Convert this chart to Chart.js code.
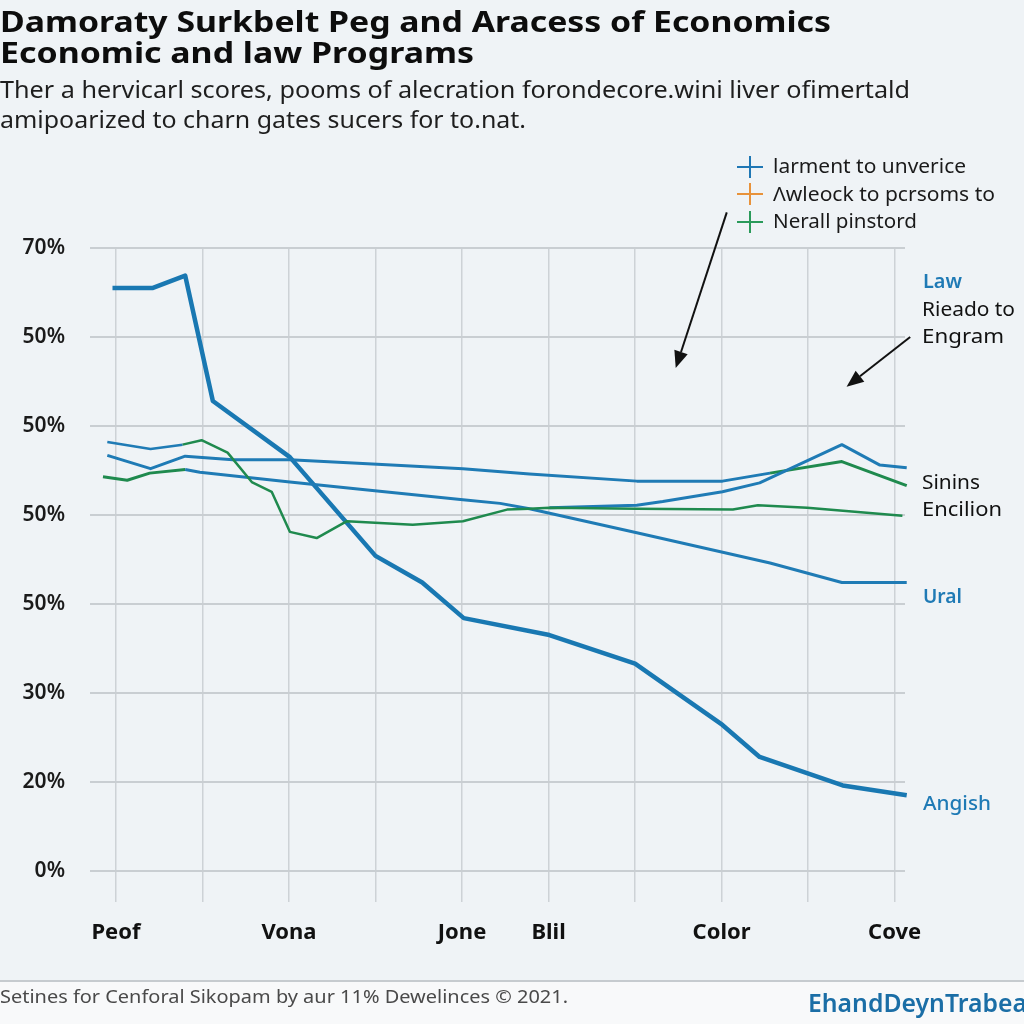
<!DOCTYPE html>
<html>
<head>
<meta charset="utf-8">
<script src="https://cdn.jsdelivr.net/npm/chart.js@4.4.1/dist/chart.umd.min.js"></script>
<style>
html,body{margin:0;padding:0;}
body{width:1024px;height:1024px;overflow:hidden;background:#eff3f6;position:relative;font-family:"Noto Sans",sans-serif;}
#c{position:absolute;left:0;top:0;}
.t{position:absolute;white-space:nowrap;transform-origin:0 0;line-height:1;}
#footer{position:absolute;left:0;top:980px;width:1024px;height:44px;background:#f8f9fa;border-top:2px solid #c6cbcf;}
.cross{position:absolute;width:26px;height:22px;}
.cross i{position:absolute;display:block;}
</style>
</head>
<body>
<div id="footer"></div>
<canvas id="c" width="1024" height="1024"></canvas>
<script>
// ---------- data ----------
const xTickValues = [0, 1, 2, 3, 4, 5, 6, 7, 8, 9];
const xTickLabels = ['Peof', '', 'Vona', '', 'Jone', 'Blil', '', 'Color', '', 'Cove'];
const yTickValues = [0, 10, 20, 30, 40, 50, 60, 70];
const yTickLabels = ['0%', '20%', '30%', '50%', '50%', '50%', '50%', '70%'];

const angishX = [-0.04, 0.42, 0.80, 1.12, 2.01, 3.00, 3.54, 4.02, 5.01, 6.00, 7.01, 7.44, 8.40, 9.14];
const angishY = [65.5, 65.5, 66.9, 52.8, 46.5, 35.4, 32.4, 28.4, 26.5, 23.3, 16.4, 12.8, 9.6, 8.5];

const nerallX = [-0.10, 0.40, 0.77, 0.99, 1.29, 1.57, 1.80, 2.01, 2.32, 2.67, 3.43, 4.01, 4.52, 4.78, 5.01, 6.02, 7.13, 7.42, 7.99, 9.09];
const nerallY = [48.2, 47.4, 47.9, 48.4, 47.0, 43.7, 42.6, 38.1, 37.4, 39.3, 38.9, 39.3, 40.6, 40.7, 40.8, 40.7, 40.6, 41.1, 40.8, 39.9];

const lawX = [-0.10, 0.40, 0.80, 1.35, 2.01, 3.02, 4.01, 4.78, 6.02, 7.01, 7.56, 8.39, 9.14];
const lawY = [46.7, 45.2, 46.6, 46.2, 46.2, 45.7, 45.2, 44.6, 43.8, 43.8, 44.7, 46.0, 43.3];

const uralX = [-0.15, 0.13, 0.39, 0.80, 0.97, 2.01, 3.02, 4.01, 4.44, 4.78, 6.02, 7.56, 8.39, 9.14];
const uralY = [44.3, 43.9, 44.7, 45.1, 44.8, 43.7, 42.7, 41.7, 41.3, 40.7, 38.0, 34.6, 32.4, 32.4];

const riseX = [5.01, 6.02, 6.32, 7.01, 7.44, 8.39, 8.83, 9.14];
const riseY = [40.8, 41.1, 41.5, 42.6, 43.6, 47.9, 45.6, 45.3];

const legendLabels = ['larment to unverice', 'Λwleock to pcrsoms to', 'Nerall pinstord'];
const legendColors = ['#1f77b4', '#e8923a', '#2a9a5a'];

const annotationArrows = [
  { from: [7.06, 74.0], to: [6.47, 56.5] },
  { from: [9.18, 60.0], to: [8.445, 54.4] }
];

// ---------- styles ----------
const BLUE = '#1f7bb5', THICK = '#1978b2', GREEN = '#1f8a4e';
const pts = (xs, ys) => xs.map((x, i) => ({ x, y: ys[i] }));

const arrowPlugin = {
  id: 'arrows',
  afterDraw(chart) {
    const { ctx, scales: { x, y } } = chart;
    ctx.save();
    ctx.strokeStyle = '#111'; ctx.fillStyle = '#111'; ctx.lineWidth = 2;
    annotationArrows.forEach(a => {
      const x0 = x.getPixelForValue(a.from[0]), y0 = y.getPixelForValue(a.from[1]);
      const x1 = x.getPixelForValue(a.to[0]), y1 = y.getPixelForValue(a.to[1]);
      const ang = Math.atan2(y1 - y0, x1 - x0), L = 17, W = 7;
      const bx = x1 - L * Math.cos(ang), by = y1 - L * Math.sin(ang);
      ctx.beginPath(); ctx.moveTo(x0, y0); ctx.lineTo(bx, by); ctx.stroke();
      ctx.beginPath();
      ctx.moveTo(x1, y1);
      ctx.lineTo(bx + W * Math.sin(ang), by - W * Math.cos(ang));
      ctx.lineTo(bx - W * Math.sin(ang), by + W * Math.cos(ang));
      ctx.closePath(); ctx.fill();
    });
    ctx.restore();
  }
};

const common = { pointRadius: 0, pointHoverRadius: 0, tension: 0, fill: false, borderJoinStyle: 'round', borderCapStyle: 'butt', clip: false };

new Chart(document.getElementById('c'), {
  type: 'line',
  data: {
    datasets: [
      Object.assign({ label: 'Nerall', data: pts(nerallX, nerallY), borderColor: GREEN, borderWidth: 2.5,
        segment: { borderColor: c => c.p0DataIndex < 2 ? BLUE : GREEN } }, common),
      Object.assign({ label: 'Ural', data: pts(uralX, uralY), borderColor: BLUE, borderWidth: 3,
        segment: { borderColor: c => c.p0DataIndex < 3 ? GREEN : BLUE } }, common),
      Object.assign({ label: 'Rise', data: pts(riseX, riseY), borderColor: BLUE, borderWidth: 3 }, common),
      Object.assign({ label: 'Law', data: pts(lawX, lawY), borderColor: BLUE, borderWidth: 3,
        segment: { borderColor: c => c.p0DataIndex >= 10 ? GREEN : BLUE } }, common),
      Object.assign({ label: 'Angish', data: pts(angishX, angishY), borderColor: THICK, borderWidth: 4.5 }, common)
    ]
  },
  options: {
    responsive: false,
    animation: false,
    devicePixelRatio: 1,
    layout: { padding: { top: 248, left: 0, right: 119, bottom: 62 } },
    plugins: { legend: { display: false }, title: { display: false }, tooltip: { enabled: false } },
    scales: {
      x: {
        type: 'linear', min: -0.3, max: 9.12,
        afterBuildTicks: s => { s.ticks = xTickValues.map(v => ({ value: v })); },
        afterFit: s => { s.height = 60; },
        grid: { color: '#cdd2d6', lineWidth: 1.5, drawTicks: false },
        border: { display: false },
        ticks: { padding: 18, autoSkip: false, maxRotation: 0, color: '#111',
          font: { family: 'Noto Sans', size: 22, weight: 'bold' },
          callback: v => { const i = xTickValues.indexOf(v); return i >= 0 ? xTickLabels[i] : ''; } }
      },
      y: {
        type: 'linear', min: -3.5, max: 70,
        afterBuildTicks: s => { s.ticks = yTickValues.map(v => ({ value: v })); },
        afterFit: s => { s.width = 90; },
        grid: { color: '#c9ced2', lineWidth: 2, drawTicks: false },
        border: { display: false },
        ticks: { padding: 25, color: '#1a1a1a',
          font: { family: 'Noto Sans', size: 21, weight: '600' },
          callback: v => { const i = yTickValues.indexOf(v); return i >= 0 ? yTickLabels[i] : ''; } }
      }
    }
  },
  plugins: [arrowPlugin]
});

// ---------- text ----------
function addText(t) {
  const el = document.createElement('div');
  el.className = 't';
  el.textContent = t.text;
  el.style.left = t.x + 'px';
  el.style.fontSize = t.size + 'px';
  el.style.fontWeight = t.weight || 400;
  el.style.color = t.color || '#111';
  document.body.appendChild(el);
  const probe = document.createElement('span');
  probe.style.cssText = 'display:inline-block;width:0;height:0;vertical-align:baseline;';
  el.appendChild(probe);
  el.style.top = (t.baseline - probe.offsetTop) + 'px';
  const w = el.getBoundingClientRect().width;
  if (t.width && w > 0) el.style.transform = 'scaleX(' + (t.width / w) + ')';
}

const texts = [
  { text: 'Damoraty Surkbelt Peg and Aracess of Economics', x: 0, baseline: 32, width: 831, size: 28, weight: 700, color: '#0d0d0d' },
  { text: 'Economic and law Programs', x: 0, baseline: 63, width: 474, size: 28, weight: 700, color: '#0d0d0d' },
  { text: 'Ther a hervicarl scores, pooms of alecration forondecore.wini liver ofimertald', x: 0, baseline: 98, width: 910, size: 24, color: '#1e1e1e' },
  { text: 'amipoarized to charn gates sucers for to.nat.', x: 0, baseline: 128, width: 526, size: 24, color: '#1e1e1e' },
  { text: legendLabels[0], x: 773, baseline: 173, width: 193, size: 20, color: '#1a1a1a' },
  { text: legendLabels[1], x: 773, baseline: 201, width: 222, size: 20, color: '#1a1a1a' },
  { text: legendLabels[2], x: 773, baseline: 228, width: 144, size: 20, color: '#1a1a1a' },
  { text: 'Law', x: 923, baseline: 288, width: 39, size: 19, weight: 600, color: '#1f7ab5' },
  { text: 'Rieado to', x: 922, baseline: 316, width: 93, size: 19, color: '#111' },
  { text: 'Engram', x: 922, baseline: 343, width: 82, size: 19, color: '#111' },
  { text: 'Sinins', x: 922, baseline: 489, width: 58, size: 19, color: '#111' },
  { text: 'Encilion', x: 922, baseline: 516, width: 80, size: 19, color: '#111' },
  { text: 'Ural', x: 923, baseline: 603, width: 39, size: 19, weight: 600, color: '#1f7ab5' },
  { text: 'Angish', x: 923, baseline: 810, width: 68, size: 19, weight: 500, color: '#1f7ab5' },
  { text: 'Setines for Cenforal Sikopam by aur 11% Dewelinces © 2021.', x: 0, baseline: 1003, width: 568, size: 18, color: '#4a4a4a' },
  { text: 'EhandDeynTrabeal', x: 808, baseline: 1012, width: 226, size: 25, weight: 600, color: '#1b6ea6' }
];
texts.forEach(addText);

// legend crosses
const crossY = [167, 194, 222];
legendColors.forEach((col, i) => {
  const d = document.createElement('div');
  d.className = 'cross';
  d.style.left = (750 - 13) + 'px';
  d.style.top = (crossY[i] - 11) + 'px';
  d.innerHTML = '<i style="left:0;top:10px;width:26px;height:2px;background:' + col + '"></i>' +
                '<i style="left:12px;top:0;width:2px;height:22px;background:' + col + '"></i>';
  document.body.appendChild(d);
});
</script>
</body>
</html>
